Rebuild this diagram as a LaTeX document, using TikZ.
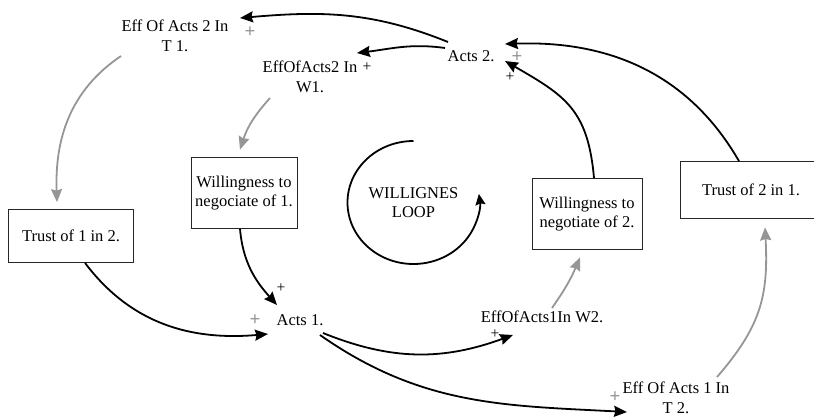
\documentclass[tikz,border=0pt]{standalone}
\usepackage{fontspec}
\setmainfont{Liberation Serif}
\usepackage{tikz}
\usetikzlibrary{arrows.meta}

\definecolor{linkgray}{RGB}{150,150,150}

\begin{document}
\begin{tikzpicture}[x=1pt,y=1pt,
	txt/.style={inner sep=0pt,align=center,font=\fontsize{16.5}{19.5}\selectfont},
	box/.style={txt,draw=black!85,line width=0.8pt},
	link/.style={line width=1.8pt,-{Stealth[length=13pt,width=11pt,inset=1.5pt]}},
	grlink/.style={link,draw=linkgray},
	polsign/.style={inner sep=0pt,font=\fontsize{15.5}{15.5}\selectfont},
	grsign/.style={inner sep=0pt,text=linkgray,font=\fontsize{19}{19}\selectfont\bfseries}]
	\useasboundingbox (0,0) rectangle (814,-416);
	\clip (0,0) rectangle (814,-416);
	\node [txt] (effB1) at (175,-36){Eff Of Acts 2 In\\T 1.};
	\node [txt] (effB2) at (310,-77){EffOfActs2 In\\W1.};
	\node [txt] (acts2) at (471,-56){Acts 2.};
	\node [txt] (acts1) at (300,-320){Acts 1.};
	\node [txt] (effA2) at (542,-317){EffOfActs1In W2.};
	\node [txt] (effA1) at (676,-398){Eff Of Acts 1 In\\T 2.};
	\node [box,minimum width=125,minimum height=53] (trust12) at (71,-236){Trust of 1 in 2.};
	\node [box,minimum width=106,minimum height=71] (will1) at (244,-193){Willingness to\\negociate of 1.};
	\node [box,minimum width=110,minimum height=71] (will2) at (587,-214){Willingness to\\negotiate of 2.};
	\node [box,minimum width=142,minimum height=57] (trust21) at (751,-190){Trust of 2 in 1.};
	\node [txt] (loop) at (413.5,-202.5){WILLIGNES\\LOOP};
	\draw [link,-{Stealth[length=11pt,width=10pt,inset=1.5pt]}]([yshift=61.5pt]loop.center) arc[start angle=90,end angle=368,x radius=66,y radius=61.5];
	\draw [link]([shift={(-23,14)}]acts2.center) to[out=158,in=5] ([shift={(65,18)}]effB1.center);
	\draw [link]([shift={(-26,8)}]acts2.center) to[out=172,in=7] ([shift={(47,24)}]effB2.center);
	\draw [link]([xshift=-12pt]trust21.north) to[out=120,in=2] ([shift={(34,12)}]acts2.center);
	\draw [link]([xshift=7pt]will2.north) to[out=95,in=-30,looseness=1.2] ([shift={(34,-5)}]acts2.center);
	\draw [grlink]([shift={(-54,-20)}]effB1.center) to[out=214,in=92] ([shift={(-14,7)}]trust12.north);
	\draw [grlink]([shift={(-40,-21)}]effB2.center) to[out=228,in=72] ([shift={(-4,7.5)}]will1.north);
	\draw [link]([xshift=14pt]trust12.south) to[out=-53,in=185] ([shift={(-32,-14)}]acts1.center);
	\draw [link]([xshift=-4pt]will1.south) to[out=-85,in=132] ([shift={(-23,15)}]acts1.center);
	\draw [link]([shift={(23,-13)}]acts1.center) to[out=-22,in=200] ([shift={(-29,-18)}]effA2.center);
	\draw [link]([shift={(20,-15)}]acts1.center) to[out=-35,in=177] ([shift={(-49,-14)}]effA1.center);
	\draw [grlink]([shift={(10,9)}]effA2.center) to[out=55,in=247] ([shift={(-7,-7.5)}]will2.south);
	\draw [grlink]([shift={(41,21)}]effA1.center) to[out=49,in=-87,looseness=1.1] ([shift={(14,-8.5)}]trust21.south);
	\node [grsign] (p1) at (250,-32){+};
	\node [polsign] (p2) at (367,-67){+};
	\node [grsign] (p3) at (517,-57){+};
	\node [polsign] (p4) at (510,-77){+};
	\node [grsign] (p5) at (255,-320){+};
	\node [polsign] (p6) at (281,-288){+};
	\node [polsign] (p7) at (495,-334){+};
	\node [grsign] (p8) at (615,-397){+};
\end{tikzpicture}
\end{document}
